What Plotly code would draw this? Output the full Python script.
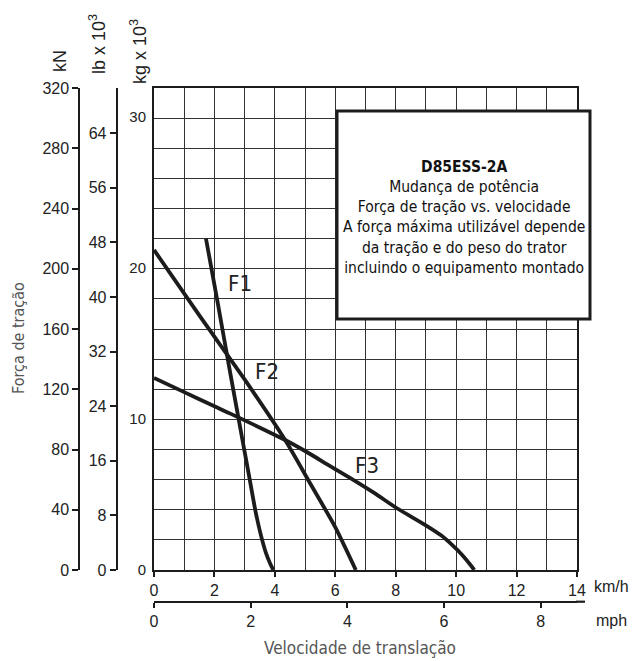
import plotly.graph_objects as go

# ---- data (km/h, kN) ----
f1_kmh = [1.72, 2.13, 2.53, 2.94, 3.16, 3.36, 3.54, 3.71, 3.85, 3.95]
f1_kn = [220, 175, 130, 85, 61, 39, 23, 11, 4, 0]
f2_kmh = [0, 1.5, 3.01, 4.34, 5.2, 5.99, 6.35, 6.68]
f2_kn = [212.5, 169, 126.2, 86.3, 56.4, 28.8, 14, 0]
f3_kmh = [0, 1.0, 2.0, 2.51, 4.34, 5.0, 5.83, 6.5, 7.3, 8.04, 8.97, 9.5, 9.9, 10.2, 10.45, 10.6]
f3_kn = [127.5, 118.1, 108.7, 104, 86.3, 79, 69, 61, 51, 41, 30, 23, 16, 10, 4, 0]

kn_ticks = [0, 40, 80, 120, 160, 200, 240, 280, 320]
lb_ticks = [0, 8, 16, 24, 32, 40, 48, 56, 64]
kg_ticks = [0, 10, 20, 30]
kmh_ticks = [0, 2, 4, 6, 8, 10, 12, 14]
mph_ticks = [0, 2, 4, 6, 8]
LB_TO_KN = 4.53
KG_TO_KN = 10.04
MPH_TO_KMH = 1.6

curve_labels = ["F1", "F2", "F3"]
label_pos = [(2.85, 190), (3.73, 131.7), (7.04, 69.7)]

box_lines = ["<b>D85ESS-2A</b>", "Mudança de potência", "Força de tração vs. velocidade",
             "A força máxima utilizável depende", "da tração e do peso do trator",
             "incluindo o equipamento montado"]

W, H = 632, 661
ML, MR, MT, MB = 40, 40, 20, 20
PW, PH = W - ML - MR, H - MT - MB

def px(p):
    return (p - ML) / PW

def py(p):
    return (H - MB - p) / PH

COND = "Liberation Sans Narrow, DejaVu Sans Condensed, Arial Narrow, sans-serif"
SANS = "Liberation Sans, Arial, Helvetica, sans-serif"
INK = "#1c1c1c"

fig = go.Figure()
for xs, ys in [(f1_kmh, f1_kn), (f2_kmh, f2_kn), (f3_kmh, f3_kn)]:
    fig.add_trace(go.Scatter(x=xs, y=ys, mode="lines", showlegend=False,
                             line=dict(color=INK, width=3.8, shape="spline", smoothing=0.7),
                             hoverinfo="skip"))
fig.add_trace(go.Scatter(x=[None], y=[None], xaxis="x2", yaxis="y", showlegend=False))
fig.add_trace(go.Scatter(x=[None], y=[None], yaxis="y2", showlegend=False))
fig.add_trace(go.Scatter(x=[None], y=[None], yaxis="y3", showlegend=False))

x_dom = [px(154), px(577)]
y_dom = [py(570), py(88)]

fig.update_layout(
    width=W, height=H, margin=dict(l=ML, r=MR, t=MT, b=MB),
    paper_bgcolor="white", plot_bgcolor="rgba(0,0,0,0)",
    xaxis=dict(domain=x_dom, range=[0, 14], tickvals=kmh_ticks,
               ticktext=[str(v) for v in kmh_ticks], ticks="outside", ticklen=5,
               tickwidth=1.5, tickcolor=INK,
               showline=True, linewidth=2, linecolor=INK, mirror=True,
               showgrid=True, gridcolor="#333", gridwidth=1.2,
               minor=dict(dtick=1, tick0=0, showgrid=True, gridcolor="#333", gridwidth=1.2),
               zeroline=False, tickfont=dict(family=SANS, size=16, color="#222"),
               anchor="y", fixedrange=True),
    xaxis2=dict(range=[0, 14 / MPH_TO_KMH], overlaying="x",
                anchor="free", position=py(601.7), side="bottom",
                tickvals=mph_ticks, ticktext=[str(v) for v in mph_ticks],
                ticks="outside", ticklen=5, tickwidth=1.5, tickcolor=INK,
                showline=True, linewidth=2.2, linecolor=INK, showgrid=False,
                zeroline=False, tickfont=dict(family=SANS, size=16, color="#222")),
    yaxis=dict(domain=y_dom, range=[0, 320], anchor="x",
               tickvals=[v * KG_TO_KN for v in kg_ticks], ticktext=[str(v) for v in kg_ticks],
               ticks="", showline=True, linewidth=2, linecolor=INK, mirror=True,
               showgrid=False,
               minor=dict(dtick=20, tick0=0, showgrid=True, gridcolor="#333", gridwidth=1.2),
               zeroline=False, tickfont=dict(family=SANS, size=15, color="#222"),
               ticklabelstandoff=3),
    yaxis2=dict(range=[0, 320], overlaying="y", anchor="free", position=px(79.3), side="left",
                tickvals=kn_ticks, ticktext=[str(v) for v in kn_ticks], ticks="outside",
                ticklen=6, tickwidth=1.5, tickcolor=INK, showline=True, linewidth=2,
                linecolor=INK, showgrid=False, zeroline=False,
                tickfont=dict(family=SANS, size=16, color="#222")),
    yaxis3=dict(range=[0, 320], overlaying="y", anchor="free", position=px(116.7), side="left",
                tickvals=[v * LB_TO_KN for v in lb_ticks], ticktext=[str(v) for v in lb_ticks],
                ticks="outside", ticklen=6, tickwidth=1.5, tickcolor=INK, showline=True,
                linewidth=2, linecolor=INK, showgrid=False, zeroline=False,
                tickfont=dict(family=SANS, size=16, color="#222")),
)

# extension of the mph axis line past the grid
fig.add_shape(type="line", xref="paper", yref="paper", x0=px(576), x1=px(585),
              y0=py(601.7), y1=py(601.7), line=dict(color=INK, width=2.2))

# info box
fig.add_shape(type="rect", xref="paper", yref="paper", x0=px(337), x1=px(590),
              y0=py(319), y1=py(111), line=dict(color=INK, width=3),
              fillcolor="white", layer="above")
fig.add_annotation(xref="paper", yref="paper", x=px(463.5), y=py(218),
                   xanchor="center", yanchor="middle",
                   text="<br>".join(box_lines), showarrow=False, align="center",
                   font=dict(family=COND, size=15.5, color="#111"))

# curve labels
for t, (xx, yy) in zip(curve_labels, label_pos):
    fig.add_annotation(x=xx, y=yy, xref="x", yref="y", text=t, showarrow=False,
                       xanchor="center", yanchor="middle",
                       font=dict(family=COND, size=22, color="#222"))

def ann(text, x, y, size, color="#222", angle=0, family=SANS, xanchor="center"):
    fig.add_annotation(xref="paper", yref="paper", x=px(x), y=py(y), text=text,
                       showarrow=False, textangle=angle, xanchor=xanchor, yanchor="middle",
                       font=dict(family=family, size=size, color=color))

ann("kN", 60, 61, 18, angle=-90)
ann("lb x 10<sup>3</sup>", 98, 44, 18, angle=-90)
ann("kg x 10<sup>3</sup>", 138, 52, 18, angle=-90)
ann("Força de tração", 18, 338, 16, color="#555", angle=-90, family=COND)
ann("Velocidade de translação", 360, 648, 17, color="#555", family=COND)
ann("km/h", 592, 586, 16, xanchor="left")
ann("mph", 594, 620, 16, xanchor="left")

fig.write_html("out.html", config={"displayModeBar": False},
               post_script="document.body.style.margin='0';document.body.style.overflow='hidden';")
